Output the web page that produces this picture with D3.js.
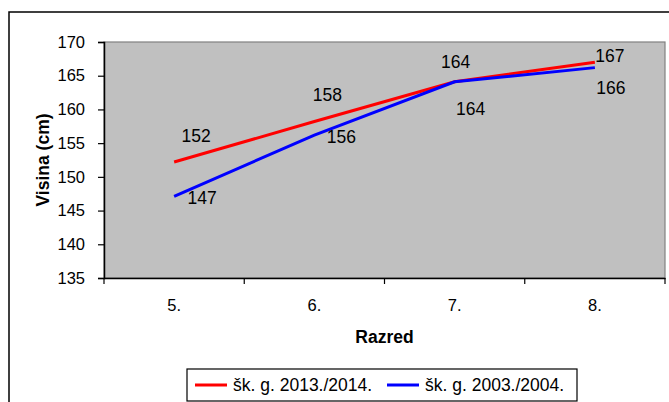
<!DOCTYPE html>
<html>
<head>
	<meta charset="utf-8">
	<title>Visina po razredima</title>
	<script src="https://d3js.org/d3.v7.min.js"></script>
	<style>
		body { margin: 0; background: #fff; }
		text { font-family: "Liberation Sans", Arial, sans-serif; fill: #000; }
	</style>
</head>
<body>
	<script>
		// Data
		const razredi = ['5.', '6.', '7.', '8.'];
		const visina2013 = [152.2, 158.2, 164.1, 167.0];
		const visina2003 = [147.1, 156.2, 164.1, 166.2];
		const labels2013 = ['152', '158', '164', '167'];
		const labels2003 = ['147', '156', '164', '166'];
		const yTicks = [135, 140, 145, 150, 155, 160, 165, 170];
		const seriesNames = ['šk. g. 2013./2014.', 'šk. g. 2003./2004.'];

		// Label nudges (label centre relative to point), as placed in the original
		const off2013 = [[22, -26], [13, -27], [1, -20], [15, -6]];
		const off2003 = [[28, 2], [27, 2], [16, 27], [16, 20]];

		const W = 669, H = 402;
		const plot = { left: 104, right: 665, top: 42, bottom: 278 };

		const svg = d3.select('body')
			.append('svg')
			.attr('width', W)
			.attr('height', H);

		// Outer chart border
		svg.append('rect')
			.attr('x', 9).attr('y', 12)
			.attr('width', W).attr('height', H)
			.attr('fill', 'none')
			.attr('stroke', '#000')
			.attr('stroke-width', 1.5);

		const x = d3.scaleBand()
			.domain(razredi)
			.range([plot.left, plot.right]);

		const y = d3.scaleLinear()
			.domain([135, 170])
			.range([plot.bottom, plot.top]);

		// Plot area
		svg.append('rect')
			.attr('x', plot.left).attr('y', plot.top)
			.attr('width', plot.right - plot.left)
			.attr('height', plot.bottom - plot.top)
			.attr('fill', '#c0c0c0')
			.attr('stroke', '#808080')
			.attr('stroke-width', 1.2);

		// Y axis
		const yAxis = svg.append('g')
			.attr('transform', `translate(${plot.left},0)`)
			.call(d3.axisLeft(y).tickValues(yTicks).tickSize(6).tickPadding(13));
		yAxis.select('.domain').attr('stroke', '#000').attr('stroke-width', 1.5);
		yAxis.selectAll('line').attr('stroke', '#000').attr('stroke-width', 1.2);
		yAxis.selectAll('text')
			.style('font-size', '16.5px')
			.style('font-family', '"Liberation Sans", Arial, sans-serif');

		// X axis: ticks between categories
		const xAxis = svg.append('g')
			.attr('transform', `translate(0,${plot.bottom})`)
			.call(d3.axisBottom(x).tickSize(0).tickPadding(21));
		xAxis.select('.domain').attr('stroke', '#000').attr('stroke-width', 1.5);
		xAxis.selectAll('text')
			.style('font-size', '16.5px')
			.style('font-family', '"Liberation Sans", Arial, sans-serif');
		const bounds = razredi.map(d => x(d)).concat([x.range()[1]]);
		svg.append('g')
			.selectAll('line')
			.data(bounds)
			.join('line')
			.attr('x1', d => d).attr('x2', d => d)
			.attr('y1', plot.bottom).attr('y2', plot.bottom + 6)
			.attr('stroke', '#000')
			.attr('stroke-width', 1.2);

		// Axis titles
		svg.append('text')
			.attr('x', (plot.left + plot.right) / 2)
			.attr('y', 343)
			.attr('text-anchor', 'middle')
			.style('font-size', '17.5px')
			.style('font-weight', 'bold')
			.text('Razred');

		svg.append('text')
			.attr('transform', `translate(49,${(plot.top + plot.bottom) / 2}) rotate(-90)`)
			.attr('text-anchor', 'middle')
			.style('font-size', '17.5px')
			.style('font-weight', 'bold')
			.text('Visina (cm)');

		// Lines
		const cx = d => x(d) + x.bandwidth() / 2;
		const line = d3.line()
			.x((d, i) => cx(razredi[i]))
			.y(d => y(d));

		const series = [
			{ values: visina2013, labels: labels2013, off: off2013, color: '#ff0000' },
			{ values: visina2003, labels: labels2003, off: off2003, color: '#0000ff' }
		];

		series.forEach(s => {
			svg.append('path')
				.datum(s.values)
				.attr('d', line)
				.attr('fill', 'none')
				.attr('stroke', s.color)
				.attr('stroke-width', 3);
		});

		series.forEach(s => {
			svg.append('g')
				.selectAll('text')
				.data(s.values)
				.join('text')
				.attr('x', (d, i) => cx(razredi[i]) + s.off[i][0])
				.attr('y', (d, i) => y(d) + s.off[i][1])
				.attr('text-anchor', 'middle')
				.attr('dominant-baseline', 'central')
				.style('font-size', '17.5px')
				.text((d, i) => s.labels[i]);
		});

		// Legend
		const legend = svg.append('g');
		legend.append('rect')
			.attr('x', 187).attr('y', 369)
			.attr('width', 390).attr('height', 32)
			.attr('fill', '#fff')
			.attr('stroke', '#000')
			.attr('stroke-width', 1.2);
		const legX = [195, 387];
		series.forEach((s, i) => {
			legend.append('line')
				.attr('x1', legX[i]).attr('x2', legX[i] + 32)
				.attr('y1', 385).attr('y2', 385)
				.attr('stroke', s.color)
				.attr('stroke-width', 3);
			legend.append('text')
				.attr('x', legX[i] + 38)
				.attr('y', 385)
				.attr('dominant-baseline', 'central')
				.style('font-size', '17.5px')
				.text(seriesNames[i]);
		});
	</script>
</body>
</html>
